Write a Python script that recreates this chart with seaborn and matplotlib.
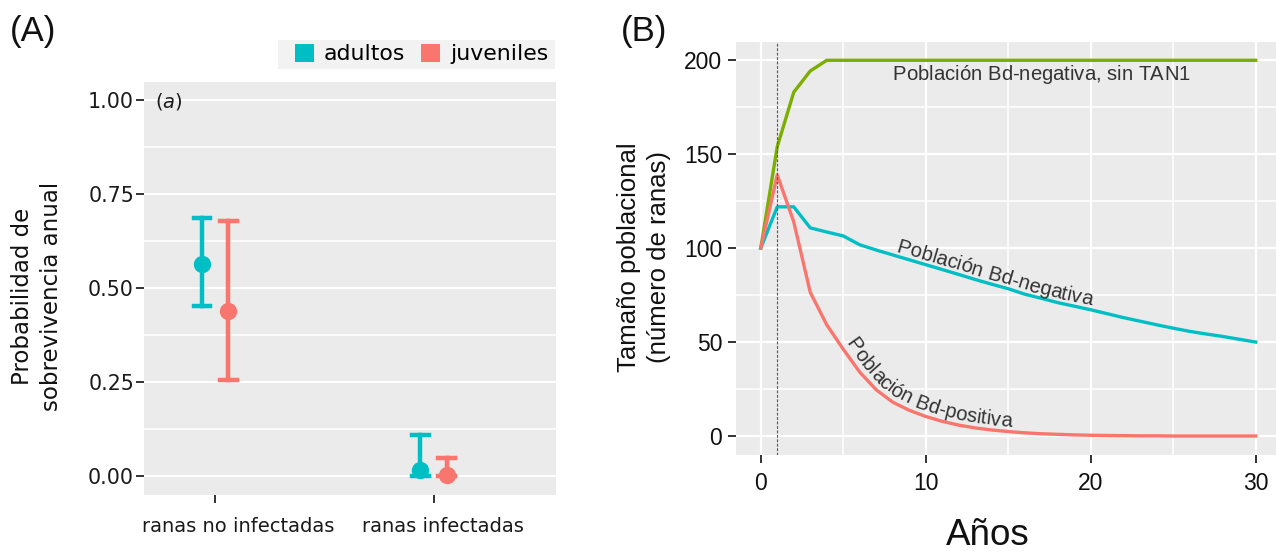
import numpy as np
import pandas as pd
import matplotlib
matplotlib.use("Agg")
import matplotlib.pyplot as plt
import matplotlib.transforms as mtransforms
from matplotlib.patches import Patch, Rectangle
from matplotlib import font_manager
from matplotlib.ft2font import FT2Font
import seaborn as sns

W, H, DPI = 1276, 553, 100

# ---------------- Panel A data ----------------
groups = ["ranas no infectadas", "ranas infectadas"]
stages = ["adultos", "juveniles"]
adult_est = [0.566, 0.016]
adult_lo = [0.453, 0.000]
adult_hi = [0.688, 0.109]
juv_est = [0.439, 0.004]
juv_lo = [0.256, 0.000]
juv_hi = [0.678, 0.048]
prob_ticks = [0.0, 0.25, 0.5, 0.75, 1.0]
prob_tick_labels = ["0.00", "0.25", "0.50", "0.75", "1.00"]

# ---------------- Panel B data ----------------
years = list(range(31))
bd_neg_sin_tan1 = [100, 154, 183, 194.3, 200, 200, 200, 200, 200, 200, 200,
                   200, 200, 200, 200, 200, 200, 200, 200, 200, 200,
                   200, 200, 200, 200, 200, 200, 200, 200, 200, 200]
bd_neg = [100, 122, 122, 110.8, 108.6, 106.5, 101.8, 99.0, 96.4, 93.8, 91.2,
          88.6, 86.0, 83.3, 80.8, 78.4, 75.5, 73.3, 71.0, 69.1, 67.2,
          65.1, 63.0, 61.1, 59.2, 57.4, 55.7, 54.3, 53.0, 51.5, 50.0]
bd_pos = [100, 139, 114, 76.5, 59.2, 46.2, 34.0, 24.6, 18.0, 13.7, 10.4,
          7.8, 5.8, 4.3, 3.2, 2.4, 1.7, 1.2, 0.9, 0.6, 0.4,
          0.3, 0.2, 0.1, 0.1, 0.0, 0.0, 0.0, 0.0, 0.0, 0.0]
series_names = ["Población Bd-negativa, sin TAN1", "Población Bd-negativa",
                "Población Bd-positiva"]
year_ticks = [0, 10, 20, 30]
pop_ticks = [0, 50, 100, 150, 200]
tan1_year = 1

# ---------------- styling ----------------
TEAL, SALMON, GREEN = "#00BFC4", "#F8766D", "#7CAE00"
PANEL = "#EBEBEB"
SANS_B = ["Liberation Sans", "DejaVu Sans"]
plt.rcParams["font.family"] = ["DejaVu Sans"]

fig = plt.figure(figsize=(W / DPI, H / DPI), dpi=DPI)


def fbox(l, t, r, b):
    return [l / W, 1 - b / H, (r - l) / W, (b - t) / H]


axA = fig.add_axes(fbox(144.3, 81.7, 556, 495))
axB = fig.add_axes(fbox(736, 41.5, 1280.5, 454.8))

# ---------------- Panel A ----------------
rows = []
for g_i, g in enumerate(groups):
    for st, est, lo, hi in [("adultos", adult_est, adult_lo, adult_hi),
                            ("juveniles", juv_est, juv_lo, juv_hi)]:
        for v in (lo[g_i], est[g_i], hi[g_i]):
            rows.append({"grupo": g, "estadio": st, "prob": v})
dfA = pd.DataFrame(rows)

sns.pointplot(data=dfA, x="grupo", y="prob", hue="estadio", order=groups,
              hue_order=stages, estimator="median", errorbar=("pi", 100),
              dodge=0.12, palette={"adultos": TEAL, "juveniles": SALMON},
              markers="o", linestyles="none", capsize=0.075,
              err_kws={"linewidth": 3.2}, markersize=12.5,
              markeredgewidth=0, legend=False, ax=axA)

axA.set_facecolor(PANEL)
for sp in axA.spines.values():
    sp.set_visible(False)
axA.set_xlim(-0.325, 1.561)
axA.set_ylim(-0.05, 1.05)
axA.set_yticks(prob_ticks, prob_tick_labels)
axA.set_yticks([(a + b) / 2 for a, b in zip(prob_ticks[:-1], prob_ticks[1:])], minor=True)
axA.set_xticks([0, 1], groups)
axA.grid(False)
axA.set_axisbelow(True)
axA.yaxis.grid(True, which="major", color="white", linewidth=1.5)
axA.yaxis.grid(True, which="minor", color="white", linewidth=1.1)
axA.tick_params(axis="y", which="major", length=6, width=1.4, color="#333333",
                pad=1.5, labelsize=14.8, labelcolor="#1a1a1a")
axA.tick_params(axis="x", which="major", length=5.5, width=1.4, color="#333333",
                pad=10, labelsize=14, labelcolor="#1a1a1a")
axA.tick_params(which="minor", length=0)
axA.set_xlabel("")
axA.set_ylabel("Probabilidad de\nsobrevivencia anual", fontsize=16.5,
               color="#111111", linespacing=1.35)
axA.yaxis.label.set_va("center")
axA.yaxis.set_label_coords((37 - 144.3) / (556 - 144.3), (495 - 296) / (495 - 81.7))
for lab, dx in zip(axA.get_xticklabels(), [16.3, 6.6]):
    lab.set_transform(lab.get_transform() +
                      mtransforms.ScaledTranslation(dx / 72, 0, fig.dpi_scale_trans))

axA.text(0.026, 0.953, r"($\mathit{a}$)", transform=axA.transAxes, fontsize=14,
         ha="left", va="center", color="#1a1a1a")

# legend
fig.add_artist(Rectangle((278.3 / W, 1 - 69 / H), 276.7 / W, 29 / H,
                         transform=fig.transFigure, facecolor="#F2F2F2",
                         edgecolor="none", zorder=0))
handles = [Patch(facecolor=c, edgecolor="none") for c in (TEAL, SALMON)]
fig.legend(handles, stages, loc="center left", bbox_to_anchor=(295 / W, 1 - 54 / H),
           ncol=2, frameon=False, fontsize=15.8, handlelength=0.88,
           handleheight=0.88, handletextpad=0.44, columnspacing=0.72,
           borderpad=0, borderaxespad=0)

fig.text(10 / W, 1 - 31 / H, "(A)", fontsize=25, ha="left", va="center",
         family=SANS_B, color="#111111")

# ---------------- Panel B ----------------
dfB = pd.DataFrame({
    "año": years * 3,
    "n": bd_neg_sin_tan1 + bd_neg + bd_pos,
    "serie": [series_names[0]] * len(years) + [series_names[1]] * len(years)
             + [series_names[2]] * len(years),
})
sns.lineplot(data=dfB, x="año", y="n", hue="serie", hue_order=series_names,
             palette=[GREEN, TEAL, SALMON], linewidth=2.4, errorbar=None,
             legend=False, ax=axB)
axB.axvline(tan1_year, color="#555555", linewidth=0.8, linestyle=(0, (2.5, 1.5)))

axB.set_facecolor(PANEL)
for sp in axB.spines.values():
    sp.set_visible(False)
axB.set_xlim(-1.5, 31.5)
axB.set_ylim(-10, 210)
axB.set_xticks(year_ticks, [str(v) for v in year_ticks])
axB.set_yticks(pop_ticks, [str(v) for v in pop_ticks])
axB.set_xticks([(a + b) / 2 for a, b in zip(year_ticks[:-1], year_ticks[1:])], minor=True)
axB.set_yticks([(a + b) / 2 for a, b in zip(pop_ticks[:-1], pop_ticks[1:])], minor=True)
axB.set_axisbelow(True)
axB.grid(True, which="major", color="white", linewidth=1.6)
axB.grid(True, which="minor", color="white", linewidth=1.1)
axB.tick_params(axis="both", which="major", length=5.5, width=1.4, color="#333333",
                labelsize=16.5, labelcolor="#111111")
axB.tick_params(axis="y", which="major", pad=4.5)
axB.tick_params(axis="x", which="major", pad=7)
axB.tick_params(which="minor", length=0)
for lab in axB.get_xticklabels() + axB.get_yticklabels():
    lab.set_fontfamily(SANS_B)

axB.set_xlabel("Años", fontsize=26.5, family=SANS_B, color="#111111")
axB.xaxis.label.set_va("baseline")
axB.xaxis.set_label_coords((988 - 736) / 544.5, (454.8 - 545) / 413.3)
axB.set_ylabel("Tamaño poblacional\n(número de ranas)", fontsize=18.5,
               family=SANS_B, color="#111111", linespacing=1.3)
axB.yaxis.label.set_va("center")
axB.yaxis.set_label_coords((644 - 736) / 544.5, (454.8 - 257) / 413.3)

fig.text(621 / W, 1 - 31.5 / H, "(B)", fontsize=25, ha="left", va="center",
         family=SANS_B, color="#111111")


def label_on_path(ax, xs, ys, text, x_center, offset, size, color, family, k=20.0):
    """Place text along the drawn curve (like geomtextpath), letter by letter."""
    pts = ax.transData.transform(np.column_stack([xs, ys]))
    seg = np.hypot(np.diff(pts[:, 0]), np.diff(pts[:, 1]))
    arc = np.concatenate([[0.0], np.cumsum(seg)])

    def at(path_s, path_pts, s):
        s = np.clip(s, path_s[0], path_s[-1])
        return np.column_stack([np.interp(s, path_s, path_pts[:, 0]),
                                np.interp(s, path_s, path_pts[:, 1])])

    # dense resampling, smoothed normals, offset path
    s_f = np.arange(0.0, arc[-1], 0.5)
    P = at(arc, pts, s_f)
    T = at(arc, pts, s_f + k) - at(arc, pts, s_f - k)
    T /= np.hypot(T[:, 0], T[:, 1])[:, None]
    Nrm = np.column_stack([-T[:, 1], T[:, 0]])
    Q = P + Nrm * offset
    sq = np.concatenate([[0.0], np.cumsum(np.hypot(np.diff(Q[:, 0]), np.diff(Q[:, 1])))])

    xc = ax.transData.transform((x_center, ys[0]))[0]
    s_mid = np.interp(xc, pts[:, 0], arc)
    q_mid = np.interp(s_mid, s_f, sq)

    fpath = font_manager.findfont(font_manager.FontProperties(family=family[0]))
    ft = FT2Font(fpath)
    ft.set_size(size, ax.figure.dpi)
    adv = np.array([ft.load_char(ord(ch)).linearHoriAdvance / 65536 for ch in text])
    starts = q_mid - adv.sum() / 2 + np.concatenate([[0.0], np.cumsum(adv)[:-1]])

    for ch, s0, a in zip(text, starts, adv):
        sm = s0 + a / 2
        half = max(a / 2, 10)
        d = (at(sq, Q, sm + half) - at(sq, Q, sm - half))[0]
        ang = np.degrees(np.arctan2(d[1], d[0]))
        p = at(sq, Q, sm)[0]
        ax.text(p[0], p[1], ch, transform=mtransforms.IdentityTransform(),
                rotation=ang, rotation_mode="anchor", ha="center",
                va="baseline", fontsize=size, color=color, family=family)


LBL = "#333333"
label_on_path(axB, years, bd_neg_sin_tan1, series_names[0], 17.0, -19.3, 14.6, LBL, SANS_B)
label_on_path(axB, years, bd_neg, series_names[1], 14.0, 4.0, 14.6, LBL, SANS_B)
label_on_path(axB, years, bd_pos, series_names[2], 9.3, 5.0, 14.6, LBL, SANS_B)

fig.savefig("out.png", dpi=DPI, facecolor="white")
